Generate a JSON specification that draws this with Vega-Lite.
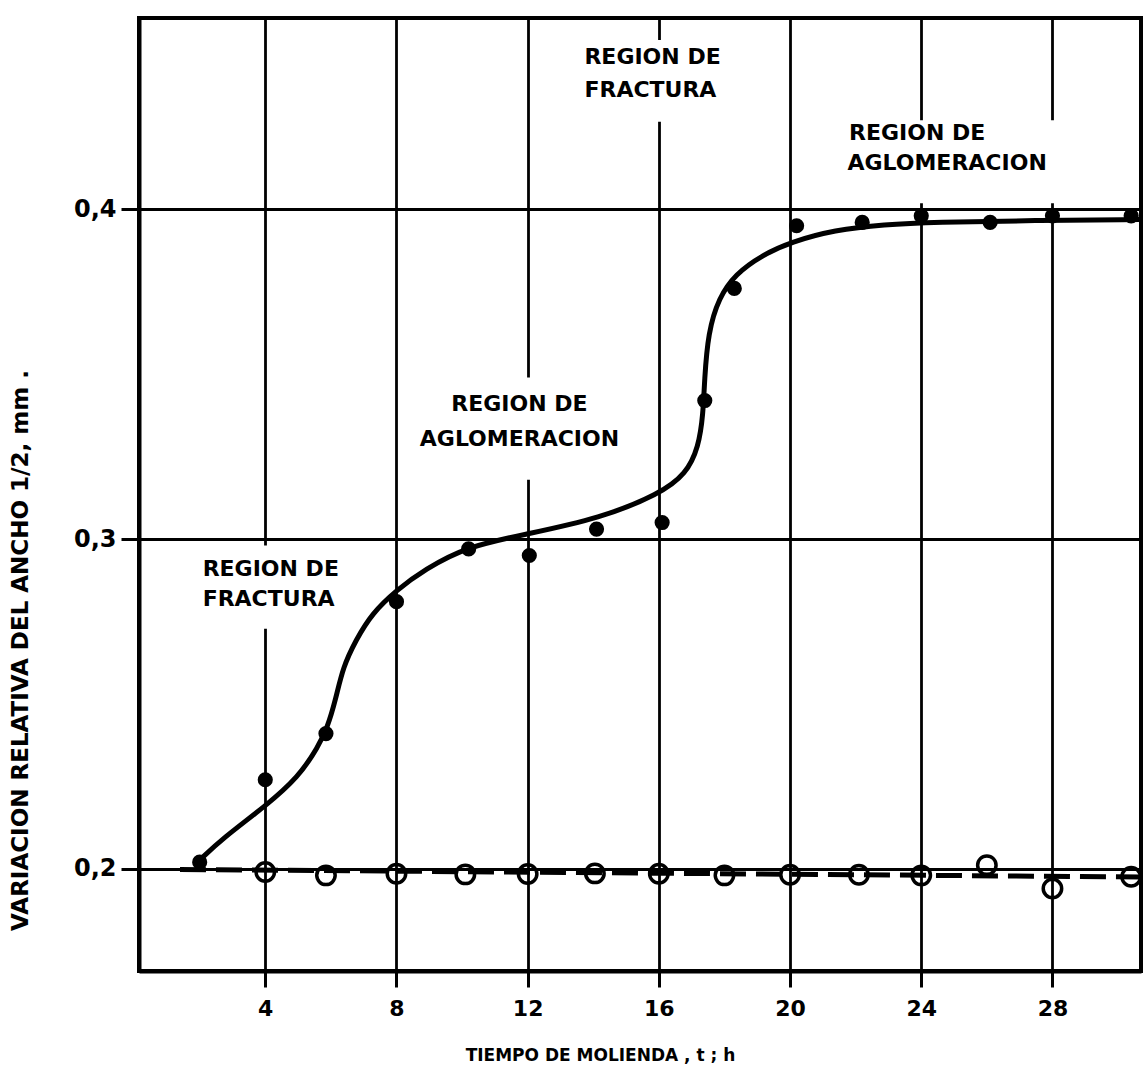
{
  "$schema": "https://vega.github.io/schema/vega-lite/v6.json",
  "width": 1002,
  "height": 953,
  "autosize": {"type": "none"},
  "padding": {"left": 139, "top": 18, "right": 3, "bottom": 100},
  "background": "white",
  "config": {
    "view": {"stroke": "black", "strokeWidth": 4},
    "font": "DejaVu Sans",
    "axis": {
      "domainColor": "black", "domainWidth": 4,
      "gridColor": "black", "gridWidth": 2.8, "gridOpacity": 1,
      "tickColor": "black", "tickWidth": 3,
      "labelColor": "black", "labelFont": "DejaVu Sans", "labelFontWeight": "bold",
      "titleColor": "black", "titleFont": "DejaVu Sans", "titleFontWeight": "bold",
      "labelFlush": false, "labelOverlap": false
    }
  },
  "datasets": {
    "cajas": [
      {"t": 1.95, "t2": 7.0, "v": 0.2728, "v2": 0.298},
      {"t": 8.4, "t2": 15.2, "v": 0.318, "v2": 0.349},
      {"t": 13.5, "t2": 18.5, "v": 0.4265, "v2": 0.4513},
      {"t": 21.6, "t2": 28.4, "v": 0.4018, "v2": 0.427}
    ],
    "notas_izq": [
      {"t": 2.09, "v": 0.291, "texto": "REGION DE"},
      {"t": 2.09, "v": 0.2817, "texto": "FRACTURA"},
      {"t": 13.73, "v": 0.4461, "texto": "REGION DE"},
      {"t": 13.73, "v": 0.4362, "texto": "FRACTURA"},
      {"t": 21.8, "v": 0.4232, "texto": "REGION DE"},
      {"t": 21.75, "v": 0.4139, "texto": "AGLOMERACION"}
    ],
    "notas_centro": [
      {"t": 11.75, "v": 0.3408, "texto": "REGION DE"},
      {"t": 11.75, "v": 0.3302, "texto": "AGLOMERACION"}
    ],
    "ajuste_abierto": [
      {"t": 1.4, "v": 0.1998},
      {"t": 30.7, "v": 0.1975}
    ],
    "curva": [
      {"t": 1.95, "v": 0.2022},
      {"t": 2.72, "v": 0.2094},
      {"t": 4.02, "v": 0.2191},
      {"t": 5.01, "v": 0.2278},
      {"t": 5.61, "v": 0.2369},
      {"t": 5.9, "v": 0.243},
      {"t": 6.14, "v": 0.2511},
      {"t": 6.37, "v": 0.2612},
      {"t": 6.76, "v": 0.2693},
      {"t": 7.25, "v": 0.2774},
      {"t": 8.0, "v": 0.2845},
      {"t": 8.85, "v": 0.2907},
      {"t": 10.16, "v": 0.2978},
      {"t": 11.98, "v": 0.3015},
      {"t": 14.21, "v": 0.3063},
      {"t": 16.02, "v": 0.3136},
      {"t": 16.83, "v": 0.3197},
      {"t": 17.21, "v": 0.3278},
      {"t": 17.35, "v": 0.3379},
      {"t": 17.39, "v": 0.3481},
      {"t": 17.5, "v": 0.3626},
      {"t": 17.83, "v": 0.3732},
      {"t": 18.33, "v": 0.3803},
      {"t": 19.13, "v": 0.386},
      {"t": 20.04, "v": 0.3901},
      {"t": 21.35, "v": 0.3937},
      {"t": 22.87, "v": 0.3954},
      {"t": 24.4, "v": 0.3961},
      {"t": 27.45, "v": 0.3966},
      {"t": 30.65, "v": 0.3969}
    ],
    "puntos_llenos": [
      {"t": 2.0, "v": 0.202},
      {"t": 4.0, "v": 0.227},
      {"t": 5.85, "v": 0.241},
      {"t": 8.0, "v": 0.281},
      {"t": 10.2, "v": 0.297},
      {"t": 12.05, "v": 0.295},
      {"t": 14.1, "v": 0.303},
      {"t": 16.1, "v": 0.305},
      {"t": 17.4, "v": 0.342},
      {"t": 18.3, "v": 0.376},
      {"t": 20.2, "v": 0.395},
      {"t": 22.2, "v": 0.396},
      {"t": 24.0, "v": 0.398},
      {"t": 26.1, "v": 0.396},
      {"t": 28.0, "v": 0.398},
      {"t": 30.4, "v": 0.398}
    ],
    "puntos_abiertos": [
      {"t": 4.0, "v": 0.199},
      {"t": 5.85, "v": 0.198},
      {"t": 8.0, "v": 0.1985},
      {"t": 10.1, "v": 0.1983},
      {"t": 12.0, "v": 0.1984},
      {"t": 14.05, "v": 0.1986},
      {"t": 16.0, "v": 0.1985},
      {"t": 18.0, "v": 0.198},
      {"t": 20.0, "v": 0.1982},
      {"t": 22.1, "v": 0.1982},
      {"t": 24.0, "v": 0.198},
      {"t": 26.0, "v": 0.2011},
      {"t": 28.0, "v": 0.194},
      {"t": 30.4, "v": 0.1976}
    ]
  },
  "encoding": {
    "x": {
      "field": "t", "type": "quantitative",
      "scale": {"domain": [0.15, 30.7], "nice": false, "zero": false},
      "axis": {
        "values": [4, 8, 12, 16, 20, 24, 28],
        "tickSize": 16, "labelPadding": 11, "labelFontSize": 22,
        "title": "TIEMPO DE MOLIENDA , t ; h", "titleFontSize": 17,
        "titleX": 461, "titleY": 84, "titleAlign": "center", "titleBaseline": "middle"
      }
    },
    "y": {
      "field": "v", "type": "quantitative",
      "scale": {"domain": [0.169, 0.458], "nice": false, "zero": false},
      "axis": {
        "values": [0.2, 0.3, 0.4],
        "tickSize": 18, "labelPadding": 5, "labelFontSize": 24,
        "labelExpr": "replace(format(datum.value, '.1f'), '.', ',')",
        "title": "VARIACION RELATIVA DEL ANCHO 1/2, mm .", "titleFontSize": 23,
        "titleX": -119, "titleY": 632, "titleAlign": "center", "titleBaseline": "middle", "titleAngle": 270
      }
    }
  },
  "layer": [
    {
      "data": {"name": "cajas"},
      "mark": {"type": "rect", "fill": "white", "stroke": null},
      "encoding": {"x2": {"field": "t2"}, "y2": {"field": "v2"}}
    },
    {
      "data": {"name": "notas_izq"},
      "mark": {"type": "text", "align": "left", "baseline": "middle", "fontSize": 22, "fontWeight": "bold", "font": "DejaVu Sans", "color": "black"},
      "encoding": {"text": {"field": "texto"}}
    },
    {
      "data": {"name": "notas_centro"},
      "mark": {"type": "text", "align": "center", "baseline": "middle", "fontSize": 22, "fontWeight": "bold", "font": "DejaVu Sans", "color": "black"},
      "encoding": {"text": {"field": "texto"}}
    },
    {
      "data": {"name": "ajuste_abierto"},
      "mark": {"type": "line", "color": "black", "strokeWidth": 5, "strokeDash": [26, 10]},
      "encoding": {}
    },
    {
      "data": {"name": "curva"},
      "mark": {"type": "line", "color": "black", "strokeWidth": 5, "interpolate": "basis"},
      "encoding": {}
    },
    {
      "data": {"name": "puntos_llenos"},
      "mark": {"type": "circle", "color": "black", "opacity": 1, "size": 230},
      "encoding": {}
    },
    {
      "data": {"name": "puntos_abiertos"},
      "mark": {"type": "point", "shape": "circle", "filled": false, "stroke": "black", "strokeWidth": 3.5, "opacity": 1, "size": 340},
      "encoding": {}
    }
  ]
}
